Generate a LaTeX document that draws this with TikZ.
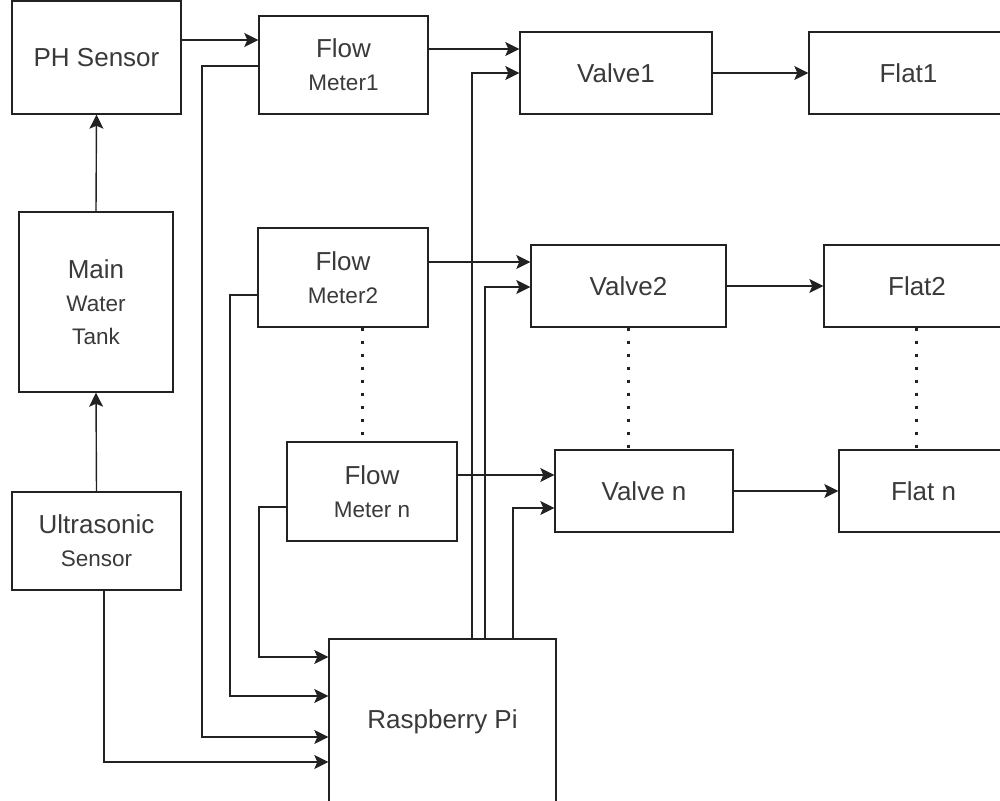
\documentclass[tikz,border=0pt]{standalone}
\usepackage{fontspec}
\setmainfont{Liberation Sans}
\usetikzlibrary{arrows.meta,positioning}

\definecolor{linecol}{HTML}{222222}
\definecolor{textcol}{HTML}{3A3A3A}

\tikzset{
  block/.style={draw=linecol, line width=1.4pt, fill=white, text=textcol,
    align=center, inner sep=0pt, font=\fontsize{26}{33}\selectfont},
  flow/.style={draw=linecol, line width=1.4pt,
    -{Stealth[length=14pt,width=14pt,inset=3pt]}},
  dots/.style={draw=linecol, line width=3pt, dash pattern=on 3pt off 10pt}
}
\newcommand{\sm}[1]{{\fontsize{22.5}{33}\selectfont #1}}

\begin{document}
\begin{tikzpicture}[x=1pt,y=-1pt]
      \path[use as bounding box, clip] (0,0) rectangle (1000,800);
      %left column
      \node[block, minimum width=169pt, minimum height=113pt] (ph) at (96.5,57.5) {PH Sensor};
      \node[block, minimum width=154pt, minimum height=180pt] (tank) at (96,302) {Main\\\sm{Water}\\\sm{Tank}};
      \node[block, minimum width=169pt, minimum height=98pt] (ultra) at (96.5,541) {Ultrasonic\\\sm{Sensor}};
      %flow meters
      \node[block, minimum width=169pt, minimum height=98pt] (fm1) at (343.5,65) {Flow\\\sm{Meter1}};
      \node[block, minimum width=170pt, minimum height=99pt] (fm2) at (343,277.5) {Flow\\\sm{Meter2}};
      \node[block, minimum width=170pt, minimum height=99pt] (fmn) at (372,491.5) {Flow\\\sm{Meter n}};
      %valves
      \node[block, minimum width=192pt, minimum height=82pt] (v1) at (616,73) {Valve1};
      \node[block, minimum width=195pt, minimum height=82pt] (v2) at (628.5,286) {Valve2};
      \node[block, minimum width=178pt, minimum height=82pt] (vn) at (644,491) {Valve n};
      %flats
      \node[block, minimum width=199pt, minimum height=82pt] (f1) at (908.5,73) {Flat1};
      \node[block, minimum width=186pt, minimum height=82pt] (f2) at (917,286) {Flat2};
      \node[block, minimum width=169pt, minimum height=82pt] (fn) at (923.5,491) {Flat n};
      %controller
      \node[block, minimum width=227pt, minimum height=166pt] (rpi) at (442.5,722) {Raspberry Pi};
      %tank line
      \draw[flow] (tank.north) -- (ph.south);
      \draw[flow] (ultra.north) -- (tank.south);
      \draw[flow] (ph.east |- 0,40) -- (fm1.west |- 0,40);
      %signals to the pi
      \draw[flow] (fm1.west |- 0,66) -| (202,737) -- (rpi.west |- 0,737);
      \draw[flow] (fm2.west |- 0,295) -| (230,696) -- (rpi.west |- 0,696);
      \draw[flow] (fmn.west |- 0,507) -| (259,657) -- (rpi.west |- 0,657);
      \draw[flow] (ultra.south -| 104,0) |- (rpi.west |- 0,762);
      %to the valves
      \draw[flow] (fm1.east |- 0,49) -- (v1.west |- 0,49);
      \draw[flow] (rpi.north -| 472,0) |- (v1.west);
      \draw[flow] (fm2.east |- 0,262) -- (v2.west |- 0,262);
      \draw[flow] (rpi.north -| 485,0) |- (v2.west |- 0,287);
      \draw[flow] (fmn.east |- 0,475) -- (vn.west |- 0,475);
      \draw[flow] (rpi.north -| 513,0) |- (vn.west |- 0,508);
      %to the flats
      \draw[flow] (v1.east) -- (f1.west);
      \draw[flow] (v2.east) -- (f2.west);
      \draw[flow] (vn.east) -- (fn.west);
      %more of the same
      \draw[dots] (fm2.south -| 362,0) -- (fmn.north -| 362,0);
      \draw[dots] (v2.south -| 628,0) -- (vn.north -| 628,0);
      \draw[dots] (f2.south -| 916,0) -- (fn.north -| 916,0);
\end{tikzpicture}
\end{document}
